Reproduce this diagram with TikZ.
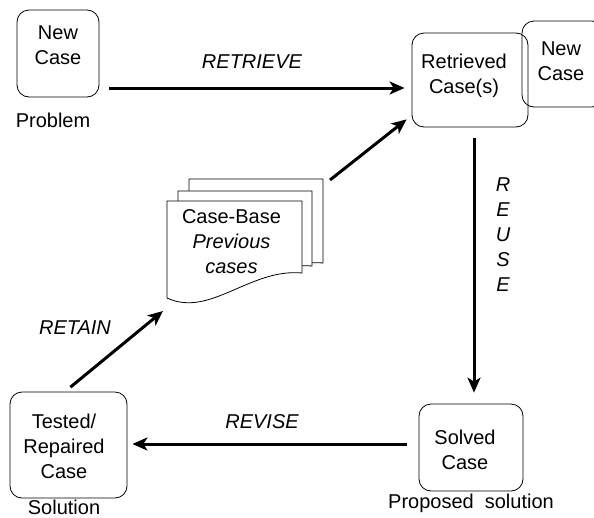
\documentclass[tikz,border=0pt]{standalone}
\usepackage{fontspec}
\setmainfont{Liberation Sans}
\usetikzlibrary{arrows.meta}
\begin{document}
\begin{tikzpicture}[x=1pt,y=1pt,
  every node/.style={font=\fontsize{20}{25}\selectfont},
  casebox/.style={draw, line width=0.8pt, rounded corners=12pt, inner sep=0pt},
  txt/.style={align=center, inner sep=0pt},
  lbl/.style={inner sep=0pt, font=\fontsize{20}{25}\selectfont\itshape},
  conn/.style={line width=3pt, -{Stealth[length=15pt,width=13pt,inset=4pt]}},
  doc/.style={draw, line width=0.8pt, fill=white}]
\useasboundingbox (0,0) rectangle (594,-517);
\begin{scope}
\clip (0,0) rectangle (594,-517);

% case boxes
\node[casebox, minimum width=82, minimum height=87] (newcase) at (58,-53.5) {};
\node[txt] (newcaset) at (58,-45.5) {New\\Case};
\node[txt] (problem) at (53,-120) {Problem};

\node[casebox, minimum width=82, minimum height=86] (newcase2) at (563,-64) {};
\node[txt] (newcase2t) at (561,-61.5) {New\\Case};
\node[casebox, minimum width=116, minimum height=94] (retrieved) at (470,-80) {};
\node[txt] (retrievedt) at (464,-75.5) {Retrieved\\Case(s)};

\node[casebox, minimum width=104, minimum height=87] (solved) at (471,-447.5) {};
\node[txt] (solvedt) at (465,-449.5) {Solved\\Case};
\node[txt] (proposed) at (471,-503) {Proposed\ \ solution};

\node[casebox, minimum width=117, minimum height=106] (tested) at (68.5,-445) {};
\node[txt] (testedt) at (64,-446) {Tested/\\Repaired\\Case};
\node[txt] (solution) at (64,-507) {Solution};

% stacked case-base documents
\draw[doc] (189,-179) -- (323,-179) -- (323,-263)
  .. controls (271,-258) and (231,-306) .. (189,-288) -- cycle;
\draw[doc] (178,-191) -- (312,-191) -- (312,-266)
  .. controls (260,-261) and (220,-309) .. (178,-291) -- cycle;
\draw[doc] (167,-201) -- (302,-201) -- (302,-273)
  .. controls (250,-268) and (210,-318) .. (167,-298) -- cycle;
\node[txt] (casebase) at (231.5,-242) {Case-Base\\\textit{Previous}\\\textit{cases}};
\coordinate (cbin) at (163,-311);
\coordinate (cbout) at (330,-180);

% connectors
\draw[conn, shorten <=10pt, shorten >=7pt] ([yshift=-34.5]newcase.east) -- ([yshift=-34.5]newcase.east -| retrieved.west);
\draw[conn, shorten <=11pt, shorten >=11pt] ([xshift=4]retrieved.south) -- ([xshift=3]solved.north);
\draw[conn, shorten <=12pt, shorten >=5pt] ([yshift=3.5]solved.west) -- ([yshift=1]tested.east);
\draw[conn, shorten <=7pt] ([xshift=-3.5]tested.north) -- (cbin);
\draw[conn] (cbout) -- ([xshift=-5,yshift=8]retrieved.south west);

% process labels
\node[lbl] (retrieve) at (252,-62) {RETRIEVE};
\node[lbl] (retain) at (75,-328) {RETAIN};
\node[lbl] (revise) at (262,-422) {REVISE};
\node[lbl, align=center, font=\fontsize{20}{25}\selectfont\itshape] (reuse) at (503,-235) {R\\E\\U\\S\\E};
\end{scope}
\end{tikzpicture}
\end{document}
